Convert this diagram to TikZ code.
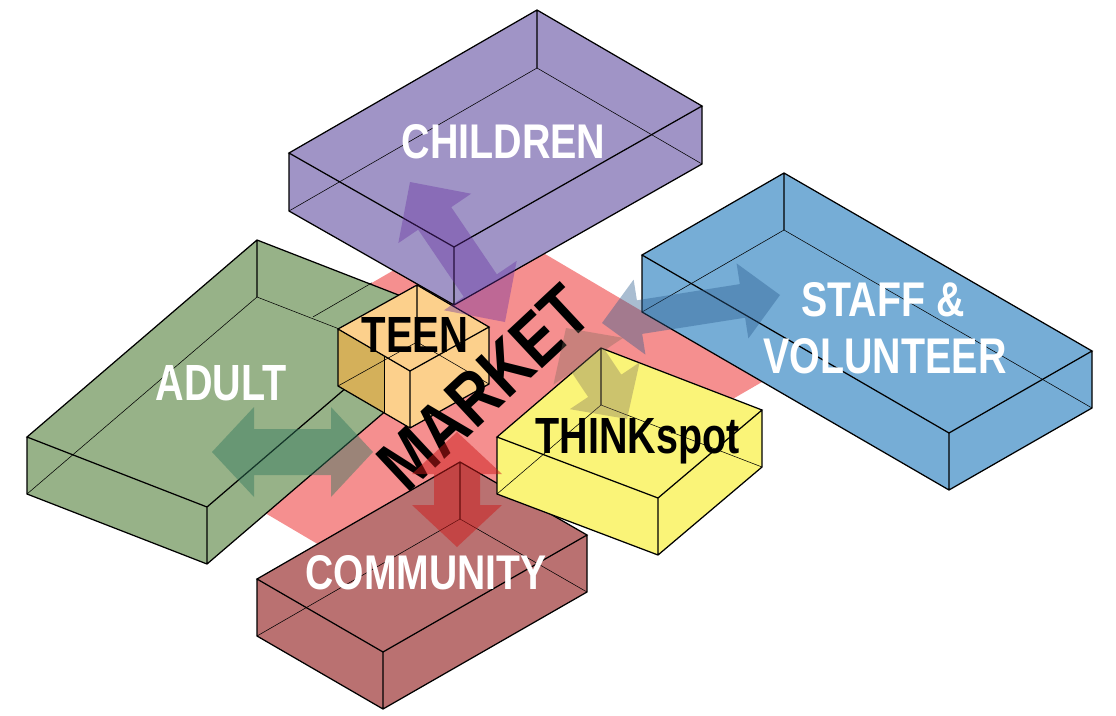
\documentclass[tikz,border=0pt]{standalone}
\usepackage{fontspec}
\setmainfont{Liberation Sans}
\usepackage{graphicx}
\usetikzlibrary{calc}
\definecolor{mkt}{RGB}{245,143,143}
\definecolor{chc}{RGB}{160,148,198}
\definecolor{adc}{RGB}{151,178,136}
\definecolor{stc}{RGB}{118,173,214}
\definecolor{tnc}{RGB}{252,208,140}
\definecolor{tnd}{RGB}{212,176,90}
\definecolor{tkc}{RGB}{250,244,120}
\definecolor{cmc}{RGB}{186,113,113}
\definecolor{arP}{RGB}{102,43,161}
\definecolor{arG}{RGB}{47,120,92}
\definecolor{arR}{RGB}{205,27,27}
\definecolor{arB}{RGB}{42,92,142}
\definecolor{arY}{RGB}{121,104,91}
\tikzset{
  boxedge/.style={draw=black, line width=1.25pt, line join=miter},
  hiddenedge/.style={draw=black, line width=0.55pt},
  lab/.style={inner sep=0pt, anchor=base, font=\bfseries},
  wlab/.style={lab, text=white},
}
% box corners: prefix, L, K(back), R, F(front), height
\newcommand{\isodef}[6]{%
  \coordinate (#1L) at (#2); \coordinate (#1K) at (#3);
  \coordinate (#1R) at (#4); \coordinate (#1F) at (#5);
  \coordinate (#1l) at ($(#1L)+(0,#6)$); \coordinate (#1k) at ($(#1K)+(0,#6)$);
  \coordinate (#1r) at ($(#1R)+(0,#6)$); \coordinate (#1f) at ($(#1F)+(0,#6)$);}
\newcommand{\isofill}[2]{%
  \fill[#2] (#1L) -- (#1K) -- (#1R) -- (#1r) -- (#1f) -- (#1l) -- cycle;}
\newcommand{\isolines}[1]{%
  \draw[hiddenedge] (#1l) -- (#1k) -- (#1r);
  \draw[boxedge] (#1L) -- (#1K) -- (#1R) -- (#1F) -- cycle
    (#1L) -- (#1l) -- (#1f) -- (#1r) -- (#1R) (#1F) -- (#1f) (#1K) -- (#1k);}
% double arrow: style, tip a, tip b, head length, head half width, shaft half width
\newcommand{\dbl}[6]{%
  \fill[#1] (#2)
   -- ($(#2)!#4!(#3)!#5!90:(#3)$) -- ($(#2)!#4!(#3)!#6!90:(#3)$)
   -- ($(#3)!#4!(#2)!#6!-90:(#2)$) -- ($(#3)!#4!(#2)!#5!-90:(#2)$)
   -- (#3)
   -- ($(#3)!#4!(#2)!#5!90:(#2)$) -- ($(#3)!#4!(#2)!#6!90:(#2)$)
   -- ($(#2)!#4!(#3)!#6!-90:(#3)$) -- ($(#2)!#4!(#3)!#5!-90:(#3)$)
   -- cycle;}
\begin{document}
\begin{tikzpicture}[x=1pt,y=-1pt]
\fill[white] (0,0) rectangle (1116,715);
\useasboundingbox (0,0) rectangle (1116,715);
% market plane
\coordinate (mL) at (121,428); \coordinate (mT) at (484,218);
\coordinate (mR) at (762,382); \coordinate (mB) at (399,592);
\fill[mkt] (mL) -- (mT) -- (mR) -- (mB) -- cycle;
% children
\isodef{ch}{289,153}{537,10}{702,106}{454,247}{58}
\isofill{ch}{chc}\isolines{ch}
% adult
\isodef{ad}{27,437}{257,240}{437,310}{207,507}{57}
\isofill{ad}{adc}\isolines{ad}
\draw[hiddenedge] ($(mT)!0.471!(mL)$) -- ($(mT)!0.3085!(mL)$);
% staff
\isodef{st}{642,255}{784,173}{1092,351}{949,433}{57}
\isofill{st}{stc}\isolines{st}
% community
\isodef{cm}{257,579}{460,462}{587,535}{383,652}{57}
\isofill{cm}{cmc}\isolines{cm}
% thinkspot
\isodef{tk}{497,437}{601,348}{762,410}{658,498}{57}
\isofill{tk}{tkc}\isolines{tk}
% teen
\isodef{tn}{338,329}{417,285}{489,327}{410,371}{57}
\isofill{tn}{tnc}
\fill[tnd] (tnL) -- ($(tnL)!0.64!(tnF)$) -- ($(tnl)!0.64!(tnf)$) -- (tnl) -- cycle;
\draw[hiddenedge] ($(tnL)!0.64!(tnF)$) -- ($(tnl)!0.64!(tnf)$);
\isolines{tn}
% labels
\node[wlab] (chT) at (503.5,158) {\resizebox{204pt}{34pt}{CHILDREN}};
\node[wlab] (adT) at (221,400) {\resizebox{131pt}{35pt}{ADULT}};
\node[wlab] (stT1) at (883,316) {\resizebox{163pt}{34pt}{STAFF \&}};
\node[wlab] (stT2) at (885,373) {\resizebox{243pt}{35pt}{VOLUNTEER}};
\node[wlab] (cmT) at (426,589) {\resizebox{241pt}{34pt}{COMMUNITY}};
\node[lab] (tnT) at (415,352) {\resizebox{107pt}{35pt}{TEEN}};
\node[lab] (tkT) at (637.5,453) {\resizebox{204pt}{35pt}{THINKspot}};
\node[inner sep=0pt, font=\bfseries, rotate=43] (mkT) at (484,388) {\resizebox{258pt}{51pt}{MARKET}};
% arrows
\coordinate (pA) at (410,182); \coordinate (pB) at (505,322);
\dbl{fill=arP, fill opacity=0.38}{pA}{pB}{44pt}{44pt}{20pt}
\coordinate (gA) at (212,452); \coordinate (gB) at (373,452);
\dbl{fill=arG, fill opacity=0.45}{gA}{gB}{42pt}{45pt}{23pt}
\coordinate (rA) at (457,432); \coordinate (rB) at (457,547);
\dbl{fill=arR, fill opacity=0.5}{rA}{rB}{42pt}{45pt}{23pt}
\coordinate (bA) at (602,323); \coordinate (bB) at (780,295);
\dbl{fill=arB, fill opacity=0.4}{bA}{bB}{38pt}{38pt}{17pt}
\coordinate (yA) at (566,328); \coordinate (yB) at (627,419);
\dbl{fill=arY, fill opacity=0.35}{yA}{yB}{40pt}{42pt}{20pt}
\end{tikzpicture}
\end{document}
